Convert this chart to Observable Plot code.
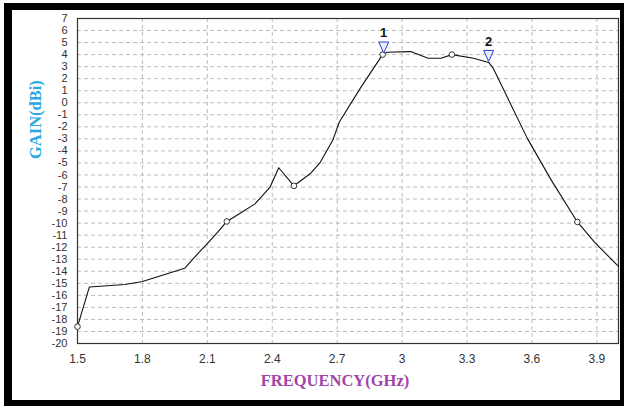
<!DOCTYPE html>
<html>
<head>
<meta charset="utf-8">
<script src="https://cdn.jsdelivr.net/npm/d3@7"></script>
<script src="https://cdn.jsdelivr.net/npm/@observablehq/plot@0.6"></script>
<style>
  body { margin: 0; background: #fff; }
  #wrap { position: relative; width: 624px; height: 406px; overflow: hidden; }
  #border { position: absolute; left: 4px; top: 3px; right: 0; bottom: 0; box-sizing: border-box;
            border-style: solid; border-color: #000; border-width: 7px 4px 6px 8px; pointer-events: none; }
</style>
</head>
<body>
<div id="wrap"><div id="chart"></div><div id="border"></div></div>
<script>
// Frequency (GHz) and gain (dBi)
const freq = [1.50, 1.555, 1.72, 1.80, 1.995, 2.068, 2.10, 2.15, 2.19, 2.25, 2.32, 2.39, 2.43, 2.50, 2.575, 2.62, 2.68, 2.71, 2.81, 2.91, 2.93, 3.04, 3.12, 3.18, 3.23, 3.33, 3.40, 3.42, 3.58, 3.69, 3.81, 3.89, 4.00];
const gain = [-18.6, -15.3, -15.1, -14.85, -13.75, -12.3, -11.7, -10.7, -9.86, -9.2, -8.4, -7.0, -5.4, -6.9, -5.9, -5.0, -3.1, -1.6, 1.3, 4.0, 4.2, 4.25, 3.7, 3.7, 4.0, 3.7, 3.35, 2.9, -3.0, -6.45, -9.9, -11.6, -13.6];

// Small circle markers on the trace
const markerFreq = [1.50, 2.19, 2.50, 2.91, 3.23, 3.81];
const markerGain = [-18.6, -9.86, -6.9, 4.0, 4.0, -9.9];

// Numbered triangle markers
const tagLabel = ["1", "2"];
const tagFreq = [2.915, 3.40];
const tagGain = [4.05, 3.35];

// Ticks
const xTicks = [1.5, 1.8, 2.1, 2.4, 2.7, 3, 3.3, 3.6, 3.9];
const yTicks = d3.range(-20, 8);

const xTitle = "FREQUENCY(GHz)";
const yTitle = "GAIN(dBi)";

const curve = freq.map((f, i) => ({f, g: gain[i]}));
const markers = markerFreq.map((f, i) => ({f, g: markerGain[i]}));
const tags = tagFreq.map((f, i) => ({f, g: tagGain[i], label: tagLabel[i]}));

const downTriangle = {
  draw(ctx) {
    ctx.moveTo(0, -1);
    ctx.lineTo(-5, -12);
    ctx.lineTo(5, -12);
    ctx.closePath();
  }
};

const chart = Plot.plot({
  width: 624,
  height: 406,
  marginLeft: 77,
  marginRight: 6,
  marginTop: 18,
  marginBottom: 63,
  style: {background: "transparent", fontFamily: "'Liberation Sans', Arial, sans-serif"},
  x: {domain: [1.5, 4.0], axis: null},
  y: {domain: [-20, 7], axis: null},
  marks: [
    Plot.ruleY(yTicks.slice(1, -1), {y: d => d, stroke: "#bdbdbd", strokeDasharray: "4,3", strokeWidth: 1}),
    Plot.ruleX(xTicks.slice(1), {x: d => d, stroke: "#bdbdbd", strokeDasharray: "4,3", strokeWidth: 1}),
    Plot.frame({stroke: "#333", strokeWidth: 1.2}),
    Plot.line(curve, {x: "f", y: "g", stroke: "#111", strokeWidth: 1.1}),
    Plot.dot(markers, {x: "f", y: "g", r: 2.8, stroke: "#333", fill: "white", strokeWidth: 1}),
    Plot.dot(tags, {x: "f", y: "g", symbol: downTriangle, stroke: "#2b3fd6", fill: "#e6eeff", strokeWidth: 1}),
    Plot.text(tags, {x: "f", y: "g", text: "label", dy: -21, fontSize: 13, fontWeight: "bold", fill: "#111"}),
    Plot.text(xTicks, {x: d => d, text: d => String(d), frameAnchor: "bottom", dy: 19, fontSize: 12, fill: "#333"}),
    Plot.text(yTicks, {y: d => d, text: d => String(d), frameAnchor: "left", dx: -10, textAnchor: "end", fontSize: 11, fill: "#333"}),
    Plot.text([xTitle], {text: d => d, frameAnchor: "bottom", dx: -13, dy: 42, fontSize: 16.5, fontWeight: "bold",
      fontFamily: "'Liberation Serif', 'Times New Roman', serif", fill: "#a046a8"}),
    Plot.text([yTitle], {text: d => d, frameAnchor: "left", rotate: -90, dx: -42, dy: -22, fontSize: 16.5, fontWeight: "bold",
      fontFamily: "'Liberation Serif', 'Times New Roman', serif", fill: "#2aa7e0"})
  ]
});
document.getElementById("chart").appendChild(chart);
</script>
</body>
</html>
